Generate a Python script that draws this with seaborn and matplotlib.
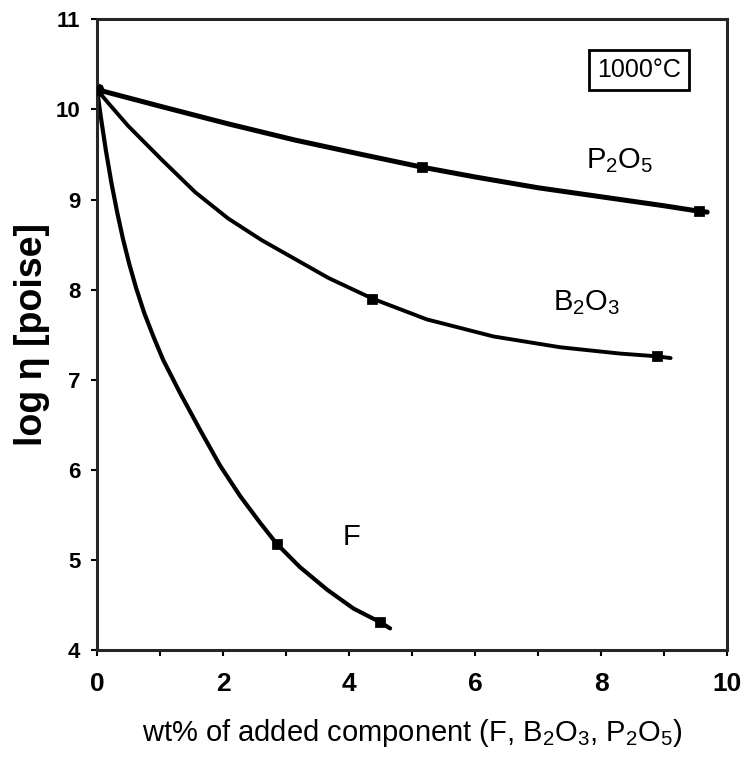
import numpy as np
import pandas as pd
import seaborn as sns
import matplotlib.pyplot as plt

p2o5_x = [0, 1.03, 2.08, 3.14, 4.2, 5.15, 6, 7, 8, 9, 9.55, 9.68]
p2o5_y = [10.22, 10.03, 9.84, 9.66, 9.5, 9.36, 9.25, 9.13, 9.03, 8.93, 8.87, 8.86]

b2o3_x = [0, 0.18, 0.49, 1.03, 1.56, 2.08, 2.61, 3.14, 3.67, 4.37, 5.23, 6.29, 7.35, 8.3, 8.88, 9.1]
b2o3_y = [10.22, 10.07, 9.82, 9.44, 9.08, 8.79, 8.55, 8.34, 8.13, 7.9, 7.67, 7.48, 7.36, 7.29, 7.26, 7.24]

f_x = [0, 0.06, 0.14, 0.23, 0.32, 0.41, 0.51, 0.62, 0.75, 0.9, 1.05, 1.32, 1.63,
       1.95, 2.27, 2.59, 2.85, 3.22, 3.65, 4.07, 4.49, 4.65]
f_y = [10.22, 9.92, 9.55, 9.18, 8.86, 8.57, 8.29, 8.02, 7.74, 7.47, 7.22, 6.85, 6.45,
       6.05, 5.71, 5.41, 5.18, 4.92, 4.67, 4.46, 4.31, 4.24]

# Messpunkte
meas_x = [0, 5.15, 9.55, 4.37, 8.88, 2.85, 4.49]
meas_y = [10.22, 9.36, 8.87, 7.9, 7.26, 5.18, 4.31]

sns.set_style("ticks")
plt.rcParams['font.family'] = ['Liberation Sans', 'DejaVu Sans']
plt.rcParams['mathtext.default'] = 'regular'
plt.rcParams['text.color'] = 'black'
plt.rcParams['axes.labelcolor'] = 'black'
plt.rcParams['xtick.color'] = 'black'
plt.rcParams['ytick.color'] = 'black'

df = pd.concat([
    pd.DataFrame({'x': p2o5_x, 'y': p2o5_y, 'comp': 'P2O5'}),
    pd.DataFrame({'x': b2o3_x, 'y': b2o3_y, 'comp': 'B2O3'}),
    pd.DataFrame({'x': f_x, 'y': f_y, 'comp': 'F'}),
])

fig = plt.figure(figsize=(7.46, 7.72), dpi=100)
ax = fig.add_axes([0.130, 0.158, 0.845, 0.817])

sns.lineplot(data=df, x='x', y='y', hue='comp', size='comp',
             palette={'P2O5': 'black', 'B2O3': 'black', 'F': 'black'},
             sizes={'P2O5': 3.6, 'B2O3': 2.8, 'F': 3.0},
             sort=False, estimator=None, legend=False, ax=ax,
             solid_joinstyle='round', solid_capstyle='round')
sns.scatterplot(x=meas_x, y=meas_y, marker='s', s=45, color='black',
                edgecolor='black', ax=ax, zorder=5)
ax.plot(0, 10.22, 'o', color='black', markersize=9)

ax.set_xlim(0, 10)
ax.set_ylim(4, 11)
ax.set_xticks(range(0, 11, 2))
ax.set_xticks(range(1, 10, 2), minor=True)
ax.set_yticks(range(4, 12))
ax.tick_params(axis='both', which='both', direction='out', length=4, width=1.5)
ax.tick_params(axis='x', which='major', labelsize=19, pad=12)
ax.tick_params(axis='y', which='major', labelsize=16, pad=8)
for lbl in ax.get_xticklabels() + ax.get_yticklabels():
    lbl.set_fontweight('bold')
for sp in ax.spines.values():
    sp.set_linewidth(2.2)
    sp.set_visible(True)

ax.set_xlabel('wt% of added component (F, B$_2$O$_3$, P$_2$O$_5$)',
              fontsize=21, labelpad=15)
ax.set_ylabel('log η [poise]', fontsize=27, fontweight='bold')
ax.yaxis.set_label_coords(-0.075, 0.5)

ax.text(7.75, 9.35, 'P$_2$O$_5$', fontsize=21, ha='left', va='baseline')
ax.text(7.24, 7.77, 'B$_2$O$_3$', fontsize=21, ha='left', va='baseline')
ax.text(3.9, 5.17, 'F', fontsize=21, ha='left', va='baseline')
ax.text(8.6, 10.44, '1000°C', fontsize=18, ha='center', va='center',
        bbox=dict(boxstyle='square,pad=0.32', facecolor='white',
                  edgecolor='black', linewidth=2))

fig.savefig('out.png', dpi=100)
